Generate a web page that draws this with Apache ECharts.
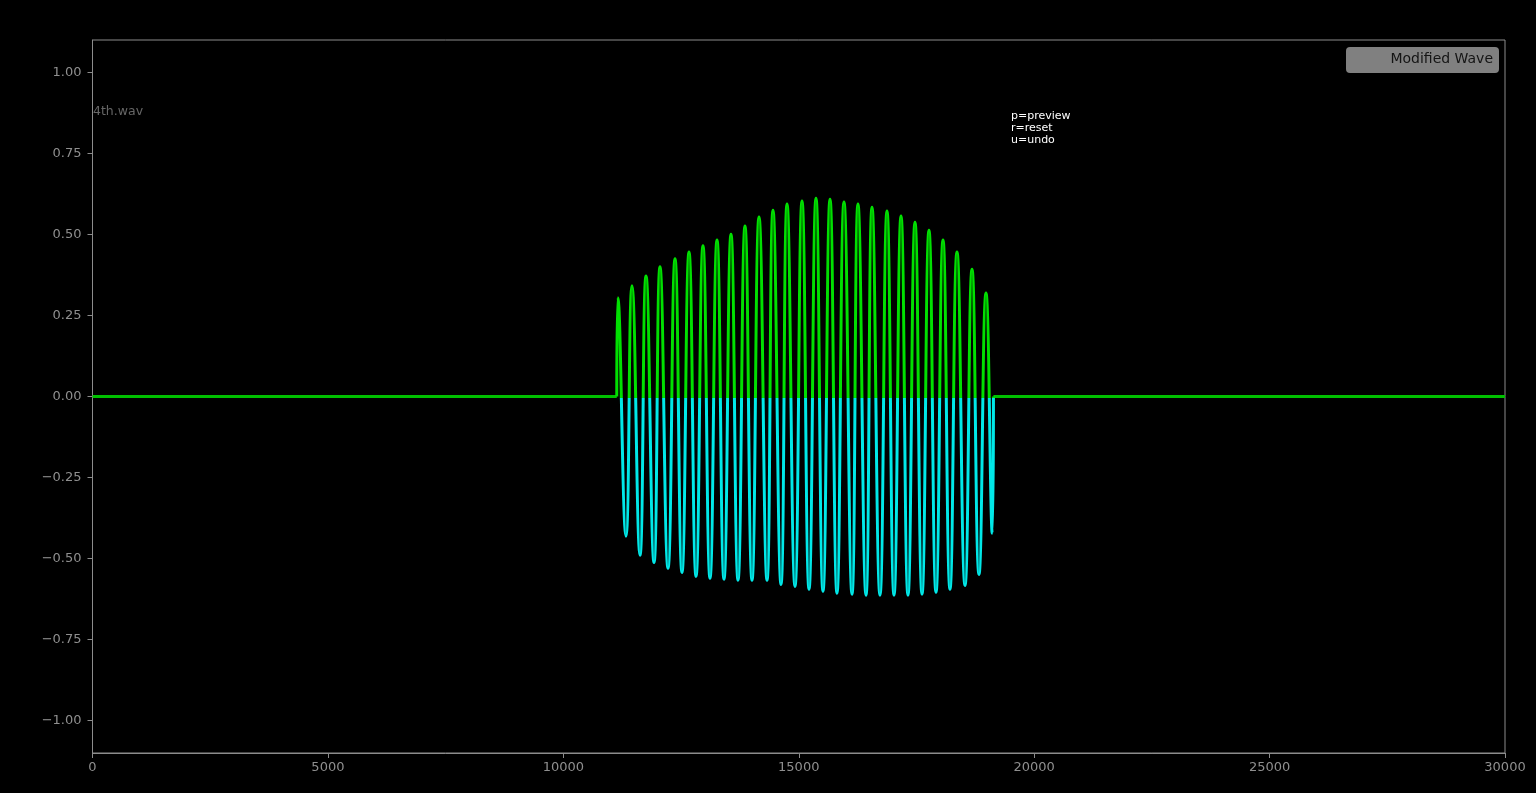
<!DOCTYPE html>
<html><head><meta charset="utf-8">
<script src="https://cdn.jsdelivr.net/npm/echarts@6/dist/echarts.min.js"></script>
<style>html,body{margin:0;padding:0;background:#000;}#c{width:1536px;height:793px;}</style>
</head><body><div id="c"></div>
<script>
// Positive peaks of the wave (sample index, amplitude)
const peakX = [11160, 11458, 11756, 12053, 12372, 12669, 12966, 13264, 13561, 13858, 14156, 14453, 14751,
  15069, 15366, 15664, 15961, 16258, 16556, 16874, 17172, 17469, 17766, 18064, 18361, 18680, 18977];
const peakY = [0.305, 0.342, 0.372, 0.400, 0.425, 0.446, 0.465, 0.483, 0.501, 0.526, 0.554, 0.575, 0.594,
  0.603, 0.612, 0.609, 0.600, 0.594, 0.584, 0.572, 0.557, 0.538, 0.513, 0.483, 0.446, 0.393, 0.319];
// Negative troughs of the wave
const troughX = [11330, 11628, 11926, 12223, 12520, 12818, 13115, 13412, 13710, 14007, 14326, 14623, 14920,
  15218, 15515, 15812, 16131, 16428, 16725, 17023, 17320, 17618, 17915, 18212, 18531, 18828, 19110];
const troughY = [-0.431, -0.490, -0.512, -0.530, -0.543, -0.555, -0.561, -0.564, -0.567, -0.567, -0.567, -0.580, -0.586,
  -0.595, -0.601, -0.607, -0.610, -0.613, -0.613, -0.613, -0.613, -0.610, -0.604, -0.595, -0.583, -0.549, -0.422];
const waveStartX = 11135;
const waveEndX = 19135;
const xMin = 0, xMax = 30000, xStep = 5000;
const yTickValues = [-1, -0.75, -0.5, -0.25, 0, 0.25, 0.5, 0.75, 1];
const legendLabel = 'Modified Wave';
const fileLabel = '4th.wav';
const helpLines = ['p=preview', 'r=reset', 'u=undo'];

const wave = [[waveStartX, 0]];
for (let i = 0; i < peakX.length; i++) {
  wave.push([peakX[i], peakY[i]]);
  wave.push([troughX[i], troughY[i]]);
}
wave.push([waveEndX, 0]);

const GREEN = '#00e000', CYAN = '#00e8e8', BASE = '#00c000';
const FONT = "'DejaVu Sans', sans-serif";
const chart = echarts.init(document.getElementById('c'), null, {renderer: 'canvas'});
const fmtY = v => (v < 0 ? '\u2212' : '') + Math.abs(v).toFixed(2);

chart.setOption({
  backgroundColor: '#000',
  animation: false,
  grid: {left: 92.5, right: 31, top: 40, bottom: 40, show: true, borderColor: '#8c8c8c', borderWidth: 1, backgroundColor: '#000'},
  xAxis: {
    type: 'value', min: xMin, max: xMax, interval: xStep,
    axisLine: {show: true, onZero: false, lineStyle: {color: '#8c8c8c', width: 1}},
    axisTick: {show: true, length: 5, lineStyle: {color: '#8c8c8c', width: 1}},
    axisLabel: {color: '#8f8f8f', fontSize: 13, fontFamily: FONT, margin: 8, formatter: v => String(v)},
    splitLine: {show: false}
  },
  yAxis: {
    type: 'value', min: -1.1, max: 1.1,
    axisLine: {show: true, onZero: false, lineStyle: {color: '#8c8c8c', width: 1}},
    axisTick: {show: true, length: 5, customValues: yTickValues, lineStyle: {color: '#8c8c8c', width: 1}},
    axisLabel: {color: '#8f8f8f', fontSize: 13, fontFamily: FONT, margin: 11, customValues: yTickValues, formatter: fmtY},
    splitLine: {show: false}
  },
  series: [
    {type: 'line', data: [[xMin, 0], [waveStartX, 0]], showSymbol: false, lineStyle: {color: BASE, width: 2.8}, itemStyle: {color: BASE}, z: 3},
    {type: 'line', data: [[waveEndX, 0], [xMax, 0]], showSymbol: false, lineStyle: {color: BASE, width: 2.8}, itemStyle: {color: BASE}, z: 3},
    {type: 'line', data: wave, showSymbol: false, smooth: 0.5, lineStyle: {width: 3, color: GREEN}, z: 4}
  ],
  graphic: [
    {type: 'text', x: 93, y: 112, style: {text: fileLabel, fill: '#666666', font: '12.5px ' + FONT, textAlign: 'left', textVerticalAlign: 'middle'}, z: 10},
    {type: 'text', x: 1011, y: 110.5, style: {text: helpLines.join('\n'), fill: '#ffffff', font: '11px ' + FONT, lineHeight: 12, textAlign: 'left', textVerticalAlign: 'top'}, z: 10},
    {type: 'rect', shape: {x: 1346, y: 47, width: 153, height: 26, r: 4}, style: {fill: '#808080'}, z: 10},
    {type: 'text', x: 1493, y: 59.5, style: {text: legendLabel, fill: '#141414', font: '14px ' + FONT, textAlign: 'right', textVerticalAlign: 'middle'}, z: 11}
  ]
});

// Colour the wave green above zero and cyan below, split at the axis's zero pixel
const y0 = chart.convertToPixel({yAxisIndex: 0}, -0.004);
chart.setOption({
  series: [{}, {}, {
    lineStyle: {
      color: {
        type: 'linear', x: 0, y: y0 - 1, x2: 0, y2: y0 + 1, global: true,
        colorStops: [{offset: 0, color: GREEN}, {offset: 0.5, color: GREEN}, {offset: 0.5, color: CYAN}, {offset: 1, color: CYAN}]
      }
    }
  }]
});
</script></body></html>
